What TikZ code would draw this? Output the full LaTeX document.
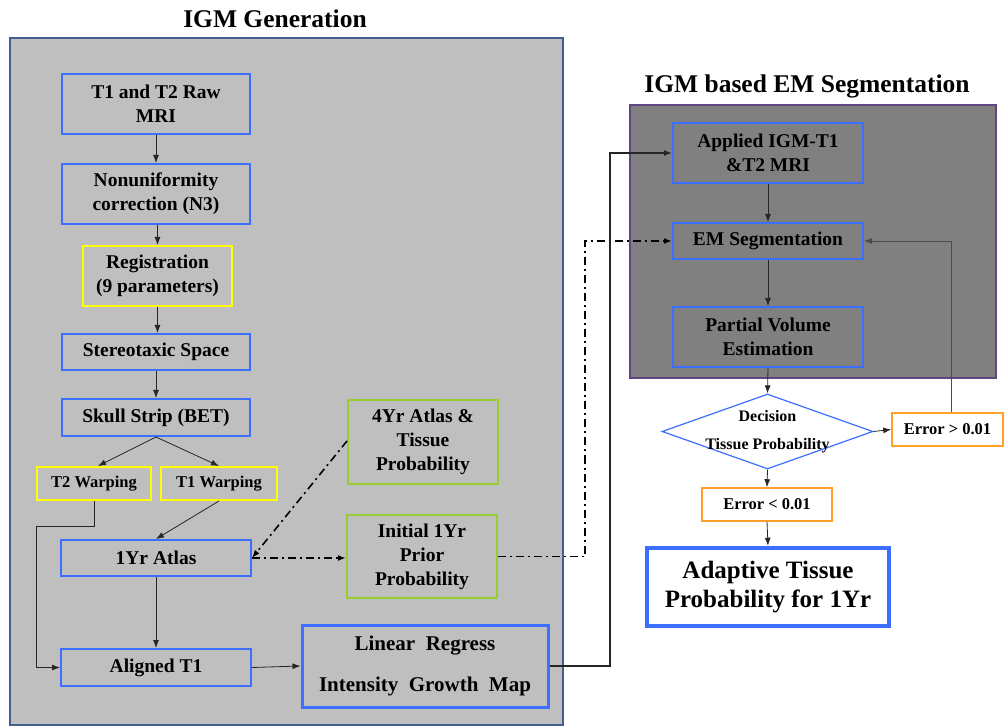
\documentclass[tikz,border=0pt]{standalone}
\usepackage{fontspec}
\setmainfont{Liberation Serif}
\usetikzlibrary{arrows.meta,shapes.geometric}
\definecolor{bblue}{RGB}{60,110,255}
\definecolor{byellow}{RGB}{255,255,0}
\definecolor{bgreen}{RGB}{153,204,51}
\definecolor{borange}{RGB}{255,160,40}
\definecolor{pfill}{RGB}{191,191,191}
\definecolor{pborder}{RGB}{65,95,140}
\definecolor{qfill}{RGB}{128,128,128}
\definecolor{qborder}{RGB}{95,70,130}
\tikzset{
  box/.style={draw=bblue,line width=2pt,rectangle,inner sep=0pt,align=center,font=\fontsize{19.5}{24}\selectfont\bfseries},
  ybox/.style={box,draw=byellow},
  gbox/.style={box,draw=bgreen},
  obox/.style={draw=borange,line width=1.5pt,fill=white,inner sep=0pt,font=\fontsize{16.5}{20}\selectfont\bfseries},
  arr/.style={-{Latex[length=8pt,width=6pt]},line width=0.8pt,draw=black!85},
  dd/.style={-{Latex[length=8pt,width=6pt]},line width=1.6pt,dash pattern=on 8pt off 4pt on 2pt off 4pt},
  ttl/.style={font=\fontsize{25.5}{30}\selectfont\bfseries}
}
\begin{document}
\begin{tikzpicture}[x=1pt,y=-1pt]
\useasboundingbox (0,0) rectangle (1005,727);
% panels
\node[ttl] (t1) at (275,19) {IGM Generation};
\draw[pborder,fill=pfill,line width=2pt] (10,38) rectangle (563,725);
\node[ttl] (t2) at (807,86) {IGM based EM Segmentation};
\draw[qborder,fill=qfill,line width=2pt] (630,105) rectangle (996,378);
% left nodes
\node[box,minimum width=188,minimum height=60] (raw) at (156,104) {T1 and T2 Raw\\MRI};
\node[box,minimum width=188,minimum height=60] (nonu) at (156,194) {Nonuniformity\\correction (N3)};
\node[ybox,minimum width=149,minimum height=60] (reg) at (157.5,276) {Registration\\(9 parameters)};
\node[box,minimum width=188,minimum height=36] (stereo) at (156,352) {Stereotaxic Space};
\node[box,minimum width=188,minimum height=37] (skull) at (156,417.5) {Skull Strip (BET)};
\node[ybox,minimum width=114,minimum height=33,font=\fontsize{16.5}{19}\selectfont\bfseries] (t2w) at (94,483.5) {T2 Warping};
\node[ybox,minimum width=116,minimum height=33,font=\fontsize{16.5}{19}\selectfont\bfseries] (t1w) at (219,483.5) {T1 Warping};
\node[gbox,minimum width=150,minimum height=84] (fouryr) at (423,442) {4Yr Atlas \&\\Tissue\\Probability};
\node[box,minimum width=190,minimum height=36] (atlas) at (156,558) {1Yr Atlas};
\node[gbox,minimum width=150,minimum height=83] (initial) at (422,556.5) {Initial 1Yr\\Prior\\Probability};
\node[box,minimum width=190,minimum height=37] (aligned) at (156,667.5) {Aligned T1};
\node[box,line width=3pt,minimum width=246,minimum height=82,font=\fontsize{21}{41}\selectfont\bfseries] (linreg) at (425,666) {Linear\ \ Regress\\Intensity\ \ Growth\ \ Map};
% right nodes
\node[box,minimum width=190,minimum height=60] (applied) at (768,153) {Applied IGM-T1\\\&T2 MRI};
\node[box,minimum width=190,minimum height=36] (em) at (768,241) {EM Segmentation};
\node[box,minimum width=190,minimum height=60] (pv) at (768,337) {Partial Volume\\Estimation};
\node[diamond,draw=bblue,line width=1.2pt,fill=white,inner sep=0pt,minimum width=211,minimum height=75,aspect=2.8,
  label={[align=center,font=\fontsize{16}{28}\selectfont\bfseries]center:Decision\\Tissue Probability}] (dec) at (767.5,431.5) {};
\node[obox,minimum width=111,minimum height=33] (errgt) at (947.5,429.5) {Error > 0.01};
\node[obox,minimum width=130,minimum height=33] (errlt) at (767,504.5) {Error < 0.01};
\node[box,line width=4.5pt,fill=white,minimum width=242,minimum height=78,font=\fontsize{25}{29}\selectfont\bfseries] (adapt) at (768,587) {Adaptive Tissue\\Probability for 1Yr};
% coordinates
\coordinate (c1) at (36,526);
\coordinate (c2) at (585,0);
\coordinate (c3) at (610,0);
% left connectors
\draw[arr] (raw) -- (nonu);
\draw[arr] (reg.north |- nonu.south) -- (reg.north);
\draw[arr] (reg.south) -- (reg.south |- stereo.north);
\draw[arr] (stereo) -- (skull);
\draw[arr] (skull.south) -- ([xshift=4]t2w.north);
\draw[arr] (skull.south) -- (t1w.north);
\draw[arr] (t1w.south) -- (atlas.north);
\draw[arr] (t2w.south) |- (c1) |- (aligned.west);
\draw[arr] (atlas) -- (aligned);
\draw[arr] (aligned.east) -- (linreg.west);
\draw[dd] ([yshift=1]fouryr.west) -- (atlas.east);
\draw[dd] (atlas.east) -- (initial.west |- atlas.east);
\draw[dd] (initial.east) -| (c2 |- em.west) -- (em.west);
\draw[arr,line width=1.2pt] (linreg.east) -| (c3 |- applied.west) -- (applied.west);
% right connectors
\draw[arr] (applied) -- (em);
\draw[arr] (em) -- (pv);
\draw[arr] (pv.south) -- (dec.north);
\draw[arr] (dec.south) -- (errlt.north);
\draw[arr] (errlt.south) -- (adapt.north);
\draw[arr] (dec.east) -- (errgt.west);
\draw[arr,draw=black!70] ([xshift=4]errgt.north) |- (em.east);
\end{tikzpicture}
\end{document}
